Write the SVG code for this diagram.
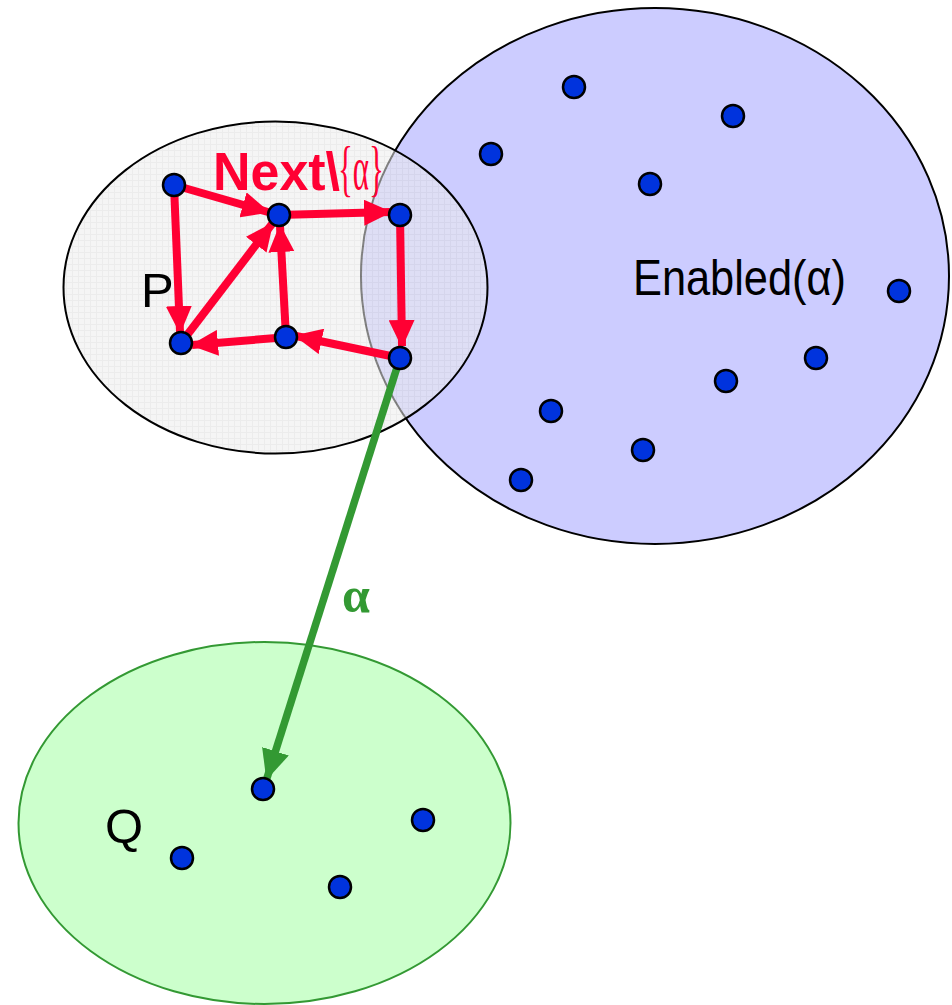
<svg xmlns="http://www.w3.org/2000/svg" width="952" height="1005" viewBox="0 0 952 1005">
<defs>
<marker id="ar" markerUnits="userSpaceOnUse" markerWidth="28" markerHeight="26" refX="26" refY="13" orient="auto"><path d="M0,0 L28,13 L0,26 Z" fill="#ff0033"/></marker>
<marker id="ag" markerUnits="userSpaceOnUse" markerWidth="30" markerHeight="28" refX="28" refY="14" orient="auto"><path d="M0,0 L30,14 L0,28 Z" fill="#339933"/></marker>
<pattern id="grid" width="6" height="6" patternUnits="userSpaceOnUse"><rect width="6" height="6" fill="#ececec"/><path d="M0,0.5H6M0.5,0V6" stroke="#dcdcdc" stroke-width="1"/></pattern>
</defs>
<style>
.node{fill:#0033dd;stroke:#000;stroke-width:2.5}
.red{stroke:#ff0033;stroke-width:8;fill:none;marker-end:url(#ar)}
.lbl{font-family:"Liberation Sans",Arial,sans-serif;fill:#000}
</style>
<g id="enabled">
<ellipse cx="655" cy="276" rx="294" ry="268" fill="#ccccff" stroke="#000" stroke-width="2"/>
<text class="lbl" x="633" y="295" font-size="50" textLength="213" lengthAdjust="spacingAndGlyphs">Enabled(α)</text>
</g>
<g id="P">
<ellipse cx="275.5" cy="287.5" rx="212" ry="166" fill="url(#grid)" fill-opacity="0.55" stroke="#000" stroke-width="2"/>
<text class="lbl" x="141" y="307" font-size="49">P</text>
</g>
<g id="Q">
<ellipse cx="264.5" cy="823" rx="246" ry="181" fill="#ccffcc" stroke="#339933" stroke-width="2"/>
<text class="lbl" x="105" y="843" font-size="49">Q</text>
</g>
<g id="connectors">
<line class="red" x1="174" y1="185" x2="268" y2="212"/>
<line class="red" x1="174" y1="185" x2="180" y2="332"/>
<line class="red" x1="181" y1="343" x2="272" y2="224"/>
<line class="red" x1="286" y1="337" x2="280" y2="226"/>
<line class="red" x1="279" y1="215" x2="390" y2="212"/>
<line class="red" x1="400" y1="215" x2="402" y2="346"/>
<line class="red" x1="400" y1="358" x2="296" y2="336"/>
<line class="red" x1="276" y1="338" x2="192" y2="345"/>
<line x1="400" y1="358" x2="267" y2="778" stroke="#339933" stroke-width="7.5" marker-end="url(#ag)"/>
<text x="213" y="190" fill="#ff0033" font-family="Liberation Sans,Arial,sans-serif" font-weight="bold" font-size="53" textLength="127" lengthAdjust="spacingAndGlyphs">Next\</text>
<text transform="translate(338,189) scale(0.5,1)" fill="#ff0033" font-family="Liberation Serif,serif" font-size="62">{α}</text>
<text x="342" y="612" font-family="Liberation Serif,serif" font-weight="bold" font-size="50" fill="#339933">α</text>
</g>
<g id="nodes">
<circle class="node" cx="174" cy="185" r="11"/>
<circle class="node" cx="279" cy="215" r="11"/>
<circle class="node" cx="400" cy="215" r="11"/>
<circle class="node" cx="181" cy="343" r="11"/>
<circle class="node" cx="286" cy="337" r="11"/>
<circle class="node" cx="400" cy="358" r="11"/>
<circle class="node" cx="574" cy="87" r="11"/>
<circle class="node" cx="733" cy="116" r="11"/>
<circle class="node" cx="491" cy="154" r="11"/>
<circle class="node" cx="650" cy="184" r="11"/>
<circle class="node" cx="899" cy="291" r="11"/>
<circle class="node" cx="816" cy="358" r="11"/>
<circle class="node" cx="726" cy="381" r="11"/>
<circle class="node" cx="551" cy="411" r="11"/>
<circle class="node" cx="643" cy="450" r="11"/>
<circle class="node" cx="521" cy="480" r="11"/>
<circle class="node" cx="263" cy="789" r="11"/>
<circle class="node" cx="423" cy="820" r="11"/>
<circle class="node" cx="182" cy="858" r="11"/>
<circle class="node" cx="340" cy="887" r="11"/>
</g>
</svg>
